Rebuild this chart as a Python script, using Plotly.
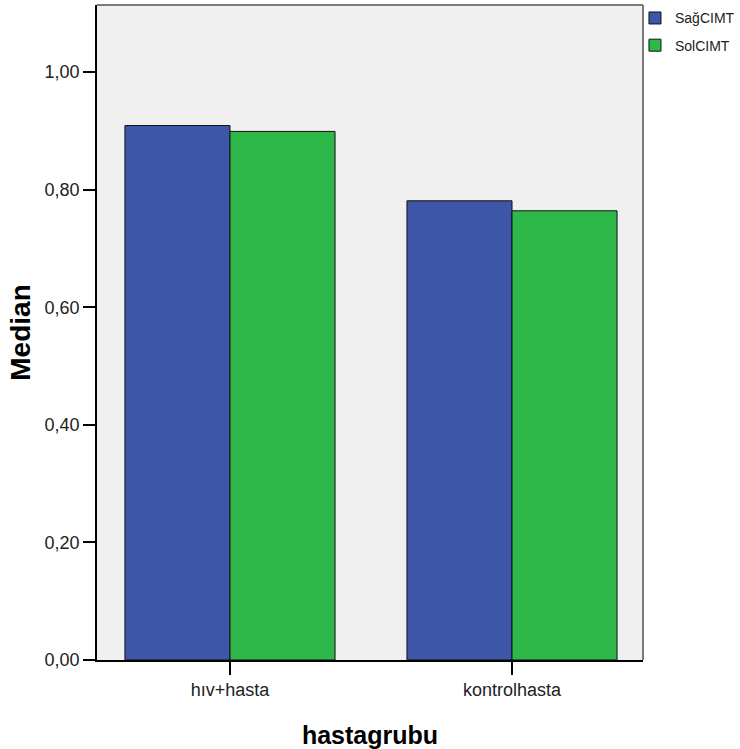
import plotly.graph_objects as go

categories = ["hıv+hasta", "kontrolhasta"]
sag_cimt = [0.909, 0.781]
sol_cimt = [0.899, 0.764]
series_names = ["SağCIMT", "SolCIMT"]
y_tick_vals = [0.0, 0.2, 0.4, 0.6, 0.8, 1.0]
y_tick_text = ["0,00", "0,20", "0,40", "0,60", "0,80", "1,00"]

FONT = "Arial, 'Liberation Sans', sans-serif"

fig = go.Figure()
fig.add_trace(go.Bar(x=categories, y=sag_cimt, name=series_names[0], legendgroup="a",
                     marker=dict(color="#3D56A8", line=dict(color="#111111", width=1))))
fig.add_trace(go.Bar(x=categories, y=sol_cimt, name=series_names[1], legendgroup="b",
                     marker=dict(color="#2EB84A", line=dict(color="#111111", width=1))))

fig.update_layout(
    width=740, height=749,
    margin=dict(l=97, r=97, t=5, b=89, autoexpand=False),
    paper_bgcolor="white",
    plot_bgcolor="#F0F0F0",
    barmode="group",
    bargap=0.255,
    bargroupgap=0,
    font=dict(family=FONT, size=18, color="#222222"),
    legend=dict(x=0.9853, y=1.004, xanchor="left", yanchor="top",
                font=dict(size=14, color="#222222"),
                bgcolor="rgba(0,0,0,0)", tracegroupgap=6, itemwidth=30),
    showlegend=True,
)

fig.update_xaxes(
    type="category", range=[-0.4716, 1.4645],
    showline=True, linecolor="black", linewidth=1.5,
    ticks="outside", ticklen=13, tickwidth=1.5, tickcolor="black",
    showgrid=False, zeroline=False,
    title=dict(text="<b>hastagrubu</b>", font=dict(size=25, color="black"), standoff=27),
)
fig.update_yaxes(
    range=[0, 1.114],
    tickvals=y_tick_vals, ticktext=y_tick_text,
    showline=True, linecolor="black", linewidth=1.5,
    ticks="outside", ticklen=12, tickwidth=1.5, tickcolor="black",
    showgrid=False, zeroline=False,
    title=dict(text="<b>Median</b>", font=dict(size=28, color="black"), standoff=6),
)

# gray frame on top and right
fig.add_shape(type="line", xref="paper", yref="paper", x0=0, x1=1, y0=1, y1=1,
              line=dict(color="#7A7A7A", width=2))
fig.add_shape(type="line", xref="paper", yref="paper", x0=1, x1=1, y0=0, y1=1,
              line=dict(color="#7A7A7A", width=2))

fig.write_html("out.html", config={"displayModeBar": False},
               post_script="document.body.style.margin='0';document.body.style.overflow='hidden';")
